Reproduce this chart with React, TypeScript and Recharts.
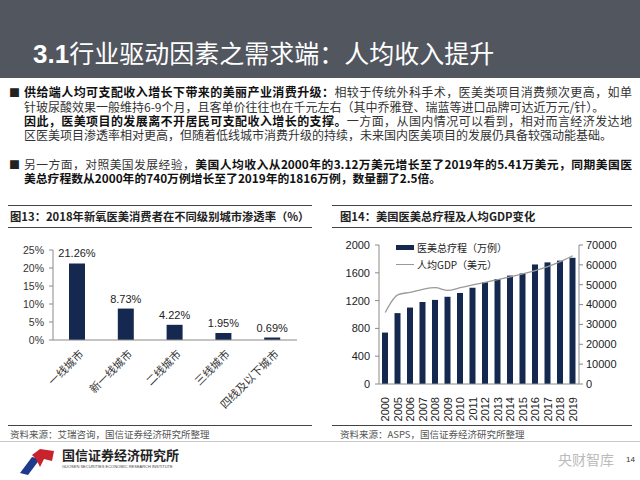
import React from 'react';
import {
  BarChart, Bar, XAxis, YAxis, LabelList, ComposedChart, Line,
} from 'recharts';

const cityCategories = ['一线城市', '新一线城市', '二线城市', '三线城市', '四线及以下城市'];
const cityRates = [21.26, 8.73, 4.22, 1.95, 0.69];
const rateTicks = [0, 5, 10, 15, 20, 25];

const yearCategories = ['2000', '2005', '2006', '2007', '2008', '2009', '2010', '2011', '2012', '2013', '2014', '2015', '2016', '2017', '2018', '2019'];
const procedures = [740, 1020, 1100, 1180, 1210, 1255, 1310, 1385, 1465, 1510, 1560, 1590, 1720, 1750, 1775, 1816];
const gdpPerCapita = [36000, 44900, 46200, 47700, 48500, 47100, 48500, 49900, 51200, 52600, 53900, 55400, 57100, 59100, 61600, 64600];
const procTicks = [0, 200, 400, 600, 800, 1000, 1200, 1400, 1600, 1800, 2000];
const gdpTicks = [0, 10000, 20000, 30000, 40000, 50000, 60000, 70000];

const procName = '医美总疗程（万例）';
const gdpName = '人均GDP（美元）';

const cityData = cityCategories.map((c, i) => ({ city: c, rate: cityRates[i] }));
const yearData = yearCategories.map((y, i) => ({ year: y, proc: procedures[i], gdp: gdpPerCapita[i] }));

const CJK = '"Noto Sans CJK SC", "Noto Sans", sans-serif';
const LAT = '"Liberation Sans", Arial, sans-serif';
const NAVY = '#15284f';
const AXIS = '#8a8a8a';

const CityTick = (props: any) => {
  const { x, y, payload } = props;
  return (
    <g transform={`translate(${x + 4},${y + 4})`}>
      <text transform="rotate(-45)" textAnchor="end" dy={4} fontSize={11} fill="#333" fontFamily={CJK}>
        {payload.value}
      </text>
    </g>
  );
};

const YearTick = (props: any) => {
  const { x, y, payload } = props;
  return (
    <g transform={`translate(${x},${y + 5})`}>
      <text transform="rotate(-90)" textAnchor="end" dy={4} fontSize={11} fill="#222" fontFamily={LAT}>
        {payload.value}
      </text>
    </g>
  );
};

const lineStyle = (left: number, top: number, width: number, color = '#444', h = 1) => ({
  position: 'absolute' as const, left, top, width, height: h, background: color,
});

export default function App() {
  const bodyLine = { position: 'absolute' as const, left: 24, width: 608, fontSize: 12, fontFamily: CJK, color: '#333', whiteSpace: 'nowrap' as const, lineHeight: '14px' };
  const justify = { textAlign: 'justify' as const, textAlignLast: 'justify' as const };
  const bullet = { position: 'absolute' as const, left: 9, fontSize: 11, color: '#222', fontFamily: CJK, lineHeight: '14px' };
  const bold = { color: '#111' };
  return (
    <div style={{ position: 'fixed', left: 0, top: 0, width: 640, height: 480, background: '#fff', overflow: 'hidden' }}>
      {/* header */}
      <div style={{ position: 'absolute', left: 0, top: 0, width: 640, height: 78, background: '#51565f' }} />
      <div style={{ position: 'absolute', left: 33, top: 37, color: '#fff', fontSize: 25, fontFamily: CJK, lineHeight: '30px', whiteSpace: 'nowrap' }}>
        <span style={{ fontFamily: LAT, fontWeight: 'bold', fontSize: 26 }}>3.1</span>行业驱动因素之需求端：人均收入提升
      </div>

      {/* body text */}
      <div style={{ ...bullet, top: 85 }}>■</div>
      <div style={{ ...bodyLine, ...justify, top: 85 }}>
        <b style={bold}>供给端人均可支配收入增长下带来的美丽产业消费升级：</b>相较于传统外科手术，医美类项目消费频次更高，如单
      </div>
      <div style={{ ...bodyLine, top: 100 }}>
        针玻尿酸效果一般维持6-9个月，且客单价往往也在千元左右（其中乔雅登、瑞蓝等进口品牌可达近万元/针）。
      </div>
      <div style={{ ...bodyLine, ...justify, top: 114 }}>
        <b style={bold}>因此，医美项目的发展离不开居民可支配收入增长的支撑。</b>一方面，从国内情况可以看到，相对而言经济发达地
      </div>
      <div style={{ ...bodyLine, top: 128 }}>
        区医美项目渗透率相对更高，但随着低线城市消费升级的持续，未来国内医美项目的发展仍具备较强动能基础。
      </div>
      <div style={{ ...bullet, top: 157 }}>■</div>
      <div style={{ ...bodyLine, ...justify, top: 157, fontSize: 11.8 }}>
        另一方面，对照美国发展经验，<b style={bold}>美国人均收入从2000年的3.12万美元增长至了2019年的5.41万美元，同期美国医</b>
      </div>
      <div style={{ ...bodyLine, top: 171, fontSize: 11.8 }}>
        <b style={bold}>美总疗程数从2000年的740万例增长至了2019年的1816万例，数量翻了2.5倍。</b>
      </div>

      {/* panel rules */}
      <div style={lineStyle(8, 205, 304)} />
      <div style={lineStyle(8, 227, 304)} />
      <div style={lineStyle(332, 205, 300)} />
      <div style={lineStyle(332, 227, 300)} />
      <div style={lineStyle(8, 425, 304)} />
      <div style={lineStyle(332, 425, 300)} />
      <div style={lineStyle(0, 441, 640, '#c8c8c8')} />

      <div style={{ position: 'absolute', left: 10, top: 208, fontSize: 11.3, fontWeight: 'bold', fontFamily: CJK, color: '#222', whiteSpace: 'nowrap', lineHeight: '17px' }}>
        图13：2018年新氧医美消费者在不同级别城市渗透率（%）
      </div>
      <div style={{ position: 'absolute', left: 340, top: 208, fontSize: 11.3, fontWeight: 'bold', fontFamily: CJK, color: '#222', whiteSpace: 'nowrap', lineHeight: '17px' }}>
        图14：美国医美总疗程及人均GDP变化
      </div>
      <div style={{ position: 'absolute', left: 10, top: 428, fontSize: 9.5, fontFamily: CJK, color: '#555', whiteSpace: 'nowrap', lineHeight: '12px' }}>
        资料来源：艾瑞咨询，国信证券经济研究所整理
      </div>
      <div style={{ position: 'absolute', left: 340, top: 428, fontSize: 9.5, fontFamily: CJK, color: '#555', whiteSpace: 'nowrap', lineHeight: '12px' }}>
        资料来源：ASPS，国信证券经济研究所整理
      </div>

      {/* left chart */}
      <div style={{ position: 'absolute', left: 0, top: 240 }}>
        <BarChart width={310} height={180} data={cityData} margin={{ top: 10, right: 13, left: 0, bottom: 0 }}>
          <XAxis dataKey="city" height={80} interval={0} tick={<CityTick />} axisLine={{ stroke: AXIS }} tickLine={false} />
          <YAxis width={53} domain={[0, 25]} ticks={rateTicks} tickFormatter={(v: number) => `${v}%`}
            tick={{ fontSize: 10.5, fill: '#333', fontFamily: LAT }} axisLine={{ stroke: AXIS }} tickLine={{ stroke: AXIS }} tickSize={4} tickMargin={5} />
          <Bar dataKey="rate" fill={NAVY} barSize={16} isAnimationActive={false}>
            <LabelList dataKey="rate" position="top" offset={6} formatter={(v: any) => `${Number(v).toFixed(2)}%`}
              style={{ fontSize: 11, fill: '#222', fontFamily: LAT }} />
          </Bar>
        </BarChart>
      </div>

      {/* right chart */}
      <div style={{ position: 'absolute', left: 320, top: 235 }}>
        <ComposedChart width={309} height={189} data={yearData} margin={{ top: 10, right: 0, left: 0, bottom: 0 }}>
          <XAxis dataKey="year" height={40} interval={0} tick={<YearTick />} axisLine={{ stroke: AXIS }} tickLine={false} />
          <YAxis yAxisId="l" width={59} domain={[0, 2000]} ticks={procTicks}
            tick={{ fontSize: 11, fill: '#222', fontFamily: LAT }} axisLine={{ stroke: AXIS }} tickLine={{ stroke: AXIS }} tickSize={4} tickMargin={5} />
          <YAxis yAxisId="r" orientation="right" width={50} domain={[0, 70000]} ticks={gdpTicks}
            tick={{ fontSize: 11, fill: '#222', fontFamily: LAT }} axisLine={{ stroke: AXIS }} tickLine={{ stroke: AXIS }} tickSize={4} tickMargin={3} />
          <Bar yAxisId="l" dataKey="proc" name={procName} fill={NAVY} barSize={6} isAnimationActive={false} />
          <Line yAxisId="r" dataKey="gdp" name={gdpName} type="monotone" stroke="#9a9a9a" strokeWidth={1.3} dot={false} isAnimationActive={false} />
        </ComposedChart>
      </div>
      {/* right chart legend */}
      <div style={{ position: 'absolute', left: 396, top: 239, fontFamily: CJK, fontSize: 10, color: '#222', lineHeight: '17px', whiteSpace: 'nowrap', background: 'transparent' }}>
        <div style={{ display: 'flex', alignItems: 'center' }}>
          <span style={{ display: 'inline-block', width: 18, height: 5, background: NAVY, marginRight: 3 }} />
          {procName}
        </div>
        <div style={{ display: 'flex', alignItems: 'center' }}>
          <span style={{ display: 'inline-block', width: 18, height: 1, background: '#999', marginRight: 3 }} />
          {gdpName}
        </div>
      </div>

      {/* footer logo */}
      <svg style={{ position: 'absolute', left: 18, top: 447 }} width={40} height={30}>
        <polygon points="2,26 14,10 22,12 10,28" fill="#1f3a8a" />
        <polygon points="14,8 22,2 36,4 34,14 26,12 22,20 18,12" fill="#c8232c" />
      </svg>
      <div style={{ position: 'absolute', left: 62, top: 447, fontSize: 13, fontWeight: 'bold', fontFamily: CJK, color: '#222', whiteSpace: 'nowrap', lineHeight: '16px' }}>
        国信证券经济研究所
      </div>
      <div style={{ position: 'absolute', left: 62, top: 464, fontSize: 4, fontFamily: LAT, color: '#444', whiteSpace: 'nowrap', lineHeight: '5px' }}>
        GUOSEN SECURITIES ECONOMIC RESEARCH INSTITUTE
      </div>
      <div style={{ position: 'absolute', left: 558, top: 451, fontSize: 14, fontFamily: CJK, color: '#bbb', whiteSpace: 'nowrap', lineHeight: '16px' }}>
        央财智库
      </div>
      <div style={{ position: 'absolute', left: 626, top: 455, fontSize: 8, fontFamily: LAT, color: '#333', lineHeight: '10px' }}>
        14
      </div>
    </div>
  );
}
